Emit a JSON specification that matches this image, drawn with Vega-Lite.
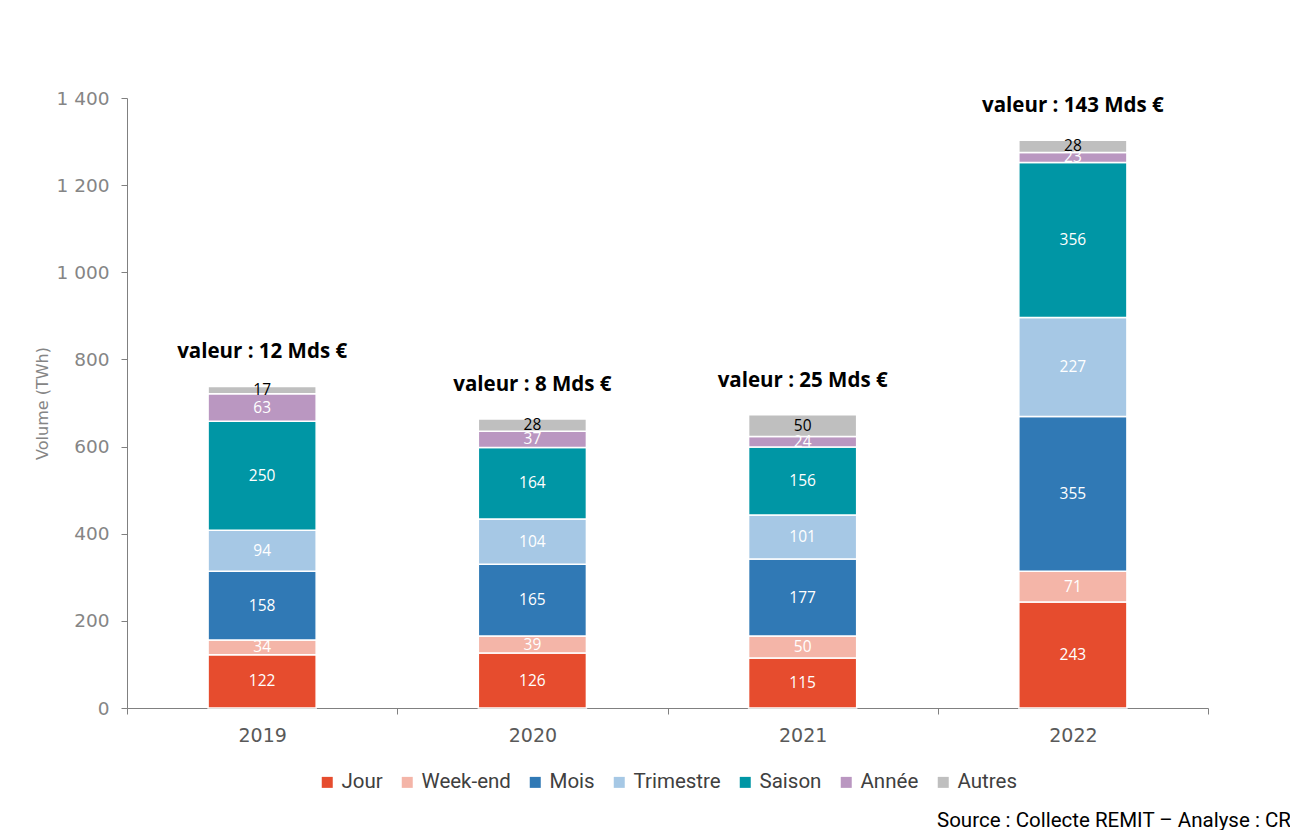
{
  "$schema": "https://vega.github.io/schema/vega-lite/v6.json",
  "width": 1081,
  "height": 610,
  "autosize": "none",
  "padding": {"left": 127, "top": 98, "right": 82, "bottom": 122},
  "background": "white",
  "config": {
    "locale": {"number": {"decimal": ",", "thousands": " ", "grouping": [3], "currency": ["", " €"]}},
    "view": {"stroke": null},
    "font": "Open Sans"
  },
  "title": {
    "text": "Source : Collecte REMIT – Analyse : CRE",
    "orient": "bottom",
    "anchor": "start",
    "frame": "group",
    "dx": 810,
    "offset": 18,
    "fontSize": 20.5,
    "font": "Roboto",
    "fontWeight": "normal",
    "color": "#000000"
  },
  "data": {
    "values": [
      {"annee": "2019", "type": "Jour", "ordre": 1, "volume": 122},
      {"annee": "2019", "type": "Week-end", "ordre": 2, "volume": 34},
      {"annee": "2019", "type": "Mois", "ordre": 3, "volume": 158},
      {"annee": "2019", "type": "Trimestre", "ordre": 4, "volume": 94},
      {"annee": "2019", "type": "Saison", "ordre": 5, "volume": 250},
      {"annee": "2019", "type": "Année", "ordre": 6, "volume": 63},
      {"annee": "2019", "type": "Autres", "ordre": 7, "volume": 17},
      {"annee": "2020", "type": "Jour", "ordre": 1, "volume": 126},
      {"annee": "2020", "type": "Week-end", "ordre": 2, "volume": 39},
      {"annee": "2020", "type": "Mois", "ordre": 3, "volume": 165},
      {"annee": "2020", "type": "Trimestre", "ordre": 4, "volume": 104},
      {"annee": "2020", "type": "Saison", "ordre": 5, "volume": 164},
      {"annee": "2020", "type": "Année", "ordre": 6, "volume": 37},
      {"annee": "2020", "type": "Autres", "ordre": 7, "volume": 28},
      {"annee": "2021", "type": "Jour", "ordre": 1, "volume": 115},
      {"annee": "2021", "type": "Week-end", "ordre": 2, "volume": 50},
      {"annee": "2021", "type": "Mois", "ordre": 3, "volume": 177},
      {"annee": "2021", "type": "Trimestre", "ordre": 4, "volume": 101},
      {"annee": "2021", "type": "Saison", "ordre": 5, "volume": 156},
      {"annee": "2021", "type": "Année", "ordre": 6, "volume": 24},
      {"annee": "2021", "type": "Autres", "ordre": 7, "volume": 50},
      {"annee": "2022", "type": "Jour", "ordre": 1, "volume": 243},
      {"annee": "2022", "type": "Week-end", "ordre": 2, "volume": 71},
      {"annee": "2022", "type": "Mois", "ordre": 3, "volume": 355},
      {"annee": "2022", "type": "Trimestre", "ordre": 4, "volume": 227},
      {"annee": "2022", "type": "Saison", "ordre": 5, "volume": 356},
      {"annee": "2022", "type": "Année", "ordre": 6, "volume": 23},
      {"annee": "2022", "type": "Autres", "ordre": 7, "volume": 28}
    ]
  },
  "layer": [
    {
      "mark": {"type": "bar", "stroke": "white", "strokeWidth": 1.5, "width": {"band": 0.4}},
      "encoding": {
        "x": {
          "field": "annee",
          "type": "nominal",
          "scale": {"paddingInner": 0, "paddingOuter": 0},
          "axis": {
            "title": null,
            "labelAngle": 0,
            "tickBand": "extent",
            "labelFontSize": 19,
            "labelFont": "DejaVu Sans",
            "labelColor": "#595959",
            "labelPadding": 12,
            "tickSize": 6,
            "tickColor": "#808080",
            "domainColor": "#808080"
          }
        },
        "y": {
          "field": "volume",
          "type": "quantitative",
          "aggregate": "sum",
          "scale": {"domain": [0, 1400]},
          "axis": {
            "title": "Volume (TWh)",
            "values": [0, 200, 400, 600, 800, 1000, 1200, 1400],
            "format": ",d",
            "grid": false,
            "labelFontSize": 18.5,
            "labelFont": "DejaVu Sans",
            "labelColor": "#858585",
            "labelPadding": 12,
            "tickSize": 6,
            "tickColor": "#808080",
            "domainColor": "#808080",
            "titleFontSize": 16,
            "titleFont": "DejaVu Sans",
            "titleFontWeight": "normal",
            "titleColor": "#858585",
            "titlePadding": 6
          }
        },
        "color": {
          "field": "type",
          "type": "nominal",
          "sort": ["Jour", "Week-end", "Mois", "Trimestre", "Saison", "Année", "Autres"],
          "scale": {
            "domain": ["Jour", "Week-end", "Mois", "Trimestre", "Saison", "Année", "Autres"],
            "range": ["#E64C2E", "#F4B5A8", "#3079B5", "#A6C8E5", "#0096A5", "#BA97C1", "#BFBFBF"]
          },
          "legend": {
            "title": null,
            "orient": "none",
            "legendX": 190,
            "legendY": 674,
            "direction": "horizontal",
            "symbolType": "square",
            "symbolSize": 121,
            "symbolStrokeWidth": 0,
            "labelFontSize": 20.5,
            "labelFont": "Roboto",
            "labelColor": "#404040",
            "columnPadding": 14
          }
        },
        "order": {"field": "ordre", "aggregate": "min"}
      }
    },
    {
      "transform": [
        {"stack": "volume", "groupby": ["annee"], "sort": [{"field": "ordre"}], "as": ["v0", "v1"]},
        {"calculate": "(datum.v0 + datum.v1) / 2", "as": "mid"}
      ],
      "mark": {"type": "text", "fontSize": 15.5, "font": "Open Sans", "baseline": "middle"},
      "encoding": {
        "x": {"field": "annee", "type": "nominal"},
        "y": {"field": "mid", "type": "quantitative"},
        "text": {"field": "volume", "type": "quantitative"},
        "color": {"condition": {"test": "datum.type === 'Autres'", "value": "#000000"}, "value": "#FFFFFF"}
      }
    },
    {
      "data": {
        "values": [
          {"annee": "2019", "total": 738, "label": "valeur : 12 Mds €"},
          {"annee": "2020", "total": 663, "label": "valeur : 8 Mds €"},
          {"annee": "2021", "total": 673, "label": "valeur : 25 Mds €"},
          {"annee": "2022", "total": 1303, "label": "valeur : 143 Mds €"}
        ]
      },
      "mark": {"type": "text", "fontSize": 20.5, "font": "Open Sans", "fontWeight": "bold", "baseline": "middle", "dy": -34, "color": "#000000"},
      "encoding": {
        "x": {"field": "annee", "type": "nominal"},
        "y": {"field": "total", "type": "quantitative"},
        "text": {"field": "label"}
      }
    }
  ]
}
